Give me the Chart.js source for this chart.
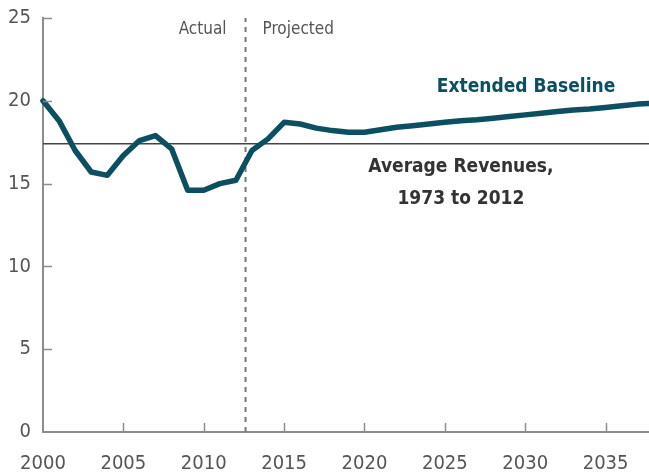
<!DOCTYPE html>
<html lang="en">
<head>
    <meta charset="UTF-8">
    <title>Extended Baseline Revenues</title>
    <script src="https://cdn.jsdelivr.net/npm/chart.js"></script>
    <style>
        html, body { margin: 0; padding: 0; background: #fff; }
        #wrap { width: 649px; height: 474px; position: relative; }
    </style>
</head>
<body>
    <div id="wrap"><canvas id="revChart"></canvas></div>

    <script>
        // data (percentage of GDP)
        const years = [2000, 2001, 2002, 2003, 2004, 2005, 2006, 2007, 2008, 2009,
                       2010, 2011, 2012, 2013, 2014, 2015, 2016, 2017, 2018, 2019,
                       2020, 2021, 2022, 2023, 2024, 2025, 2026, 2027, 2028, 2029,
                       2030, 2031, 2032, 2033, 2034, 2035, 2036, 2037, 2038];
        const revenues = [20.0, 18.8, 17.0, 15.7, 15.5, 16.7, 17.6, 17.9, 17.1, 14.6,
                          14.6, 15.0, 15.2, 17.0, 17.7, 18.7, 18.6, 18.35, 18.2, 18.1,
                          18.1, 18.25, 18.4, 18.5, 18.6, 18.7, 18.8, 18.85, 18.95, 19.05,
                          19.15, 19.25, 19.35, 19.45, 19.5, 19.6, 19.7, 19.8, 19.85];
        const averageRevenue = 17.4;
        const splitYear = 2012.6;
        const xTickYears = [2000, 2005, 2010, 2015, 2020, 2025, 2030, 2035];
        const yTickValues = [0, 5, 10, 15, 20, 25];

        const FONT = "'DejaVu Sans Condensed', 'Liberation Sans Narrow', sans-serif";
        const TEAL = "#0c4f61";
        const AXIS = "#8c8c8c";

        const annotations = {
            id: "annotations",
            afterDatasetsDraw(chart) {
                const ctx = chart.ctx;
                const x = chart.scales.x, y = chart.scales.y;
                const area = chart.chartArea;
                ctx.save();
                // inside tick marks
                ctx.strokeStyle = AXIS;
                ctx.lineWidth = 1.5;
                yTickValues.forEach(v => {
                    if (v === 0) return;
                    const py = Math.round(y.getPixelForValue(v)) + 0.5;
                    ctx.beginPath();
                    ctx.moveTo(area.left, py);
                    ctx.lineTo(area.left + 9, py);
                    ctx.stroke();
                });
                xTickYears.forEach(v => {
                    if (v === 2000) return;
                    const px = Math.round(x.getPixelForValue(v)) + 0.5;
                    ctx.beginPath();
                    ctx.moveTo(px, area.bottom);
                    ctx.lineTo(px, area.bottom - 9);
                    ctx.stroke();
                });

                const dashX = x.getPixelForValue(splitYear);
                ctx.fillStyle = "#555";
                ctx.font = "17px " + FONT;
                ctx.textBaseline = "middle";
                ctx.textAlign = "right";
                ctx.fillText("Actual", dashX - 19, y.getPixelForValue(24.3));
                ctx.textAlign = "left";
                ctx.fillText("Projected", dashX + 17, y.getPixelForValue(24.3));

                ctx.textAlign = "center";
                ctx.font = "bold 19px " + FONT;
                ctx.fillStyle = TEAL;
                ctx.fillText("Extended Baseline", x.getPixelForValue(2030.05), y.getPixelForValue(20.8));

                ctx.fillStyle = "#333";
                ctx.font = "bold 19px " + FONT;
                ctx.fillText("Average Revenues,", x.getPixelForValue(2026), y.getPixelForValue(16.0));
                ctx.fillText("1973 to 2012", x.getPixelForValue(2026), y.getPixelForValue(14.05));
                ctx.restore();
            }
        };

        new Chart(document.getElementById("revChart"), {
            type: "line",
            data: {
                datasets: [
                    {
                        data: years.map((yr, i) => ({ x: yr, y: revenues[i] })),
                        borderColor: TEAL,
                        borderWidth: 5.5,
                        pointRadius: 0,
                        tension: 0,
                        borderJoinStyle: "round",
                        borderCapStyle: "round",
                        clip: 6,
                        order: 1
                    },
                    {
                        data: [{ x: 2000, y: averageRevenue }, { x: 2038, y: averageRevenue }],
                        borderColor: "#444",
                        borderWidth: 1.5,
                        pointRadius: 0,
                        order: 2
                    },
                    {
                        data: [{ x: splitYear, y: 0 }, { x: splitYear, y: 25 }],
                        borderColor: "#777",
                        borderWidth: 2,
                        borderDash: [5, 5],
                        pointRadius: 0,
                        order: 3
                    }
                ]
            },
            options: {
                responsive: true,
                maintainAspectRatio: false,
                animation: false,
                layout: { padding: { top: 18, right: 0, left: 0, bottom: 0 } },
                plugins: { legend: { display: false }, tooltip: { enabled: false } },
                scales: {
                    x: {
                        type: "linear",
                        min: 2000,
                        max: 2037.7,
                        afterBuildTicks: s => { s.ticks = xTickYears.map(v => ({ value: v })); },
                        afterFit: s => { s.height = 42; s.paddingLeft = 0; s.paddingRight = 0; },
                        grid: { drawOnChartArea: false, drawTicks: false },
                        border: { color: AXIS, width: 2 },
                        ticks: {
                            padding: 20,
                            color: "#555",
                            font: { family: FONT, size: 20 },
                            maxRotation: 0,
                            autoSkip: false,
                            callback: v => String(v)
                        }
                    },
                    y: {
                        min: 0,
                        max: 25,
                        afterBuildTicks: s => { s.ticks = yTickValues.map(v => ({ value: v })); },
                        afterFit: s => { s.width = 43; s.paddingTop = 0; s.paddingBottom = 0; },
                        grid: { drawOnChartArea: false, drawTicks: false },
                        border: { color: AXIS, width: 2 },
                        ticks: {
                            padding: 12,
                            color: "#555",
                            font: { family: FONT, size: 20 }
                        }
                    }
                }
            },
            plugins: [annotations]
        });
    </script>
</body>
</html>
